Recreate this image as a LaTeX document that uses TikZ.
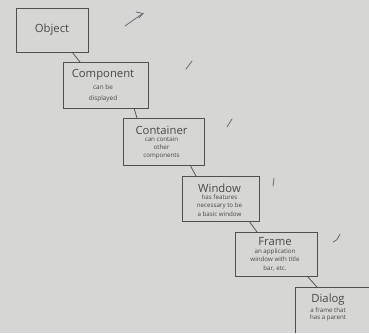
\documentclass[tikz,border=0pt]{standalone}
\usepackage{fontspec}
\setmainfont{Open Sans}
\definecolor{paper}{RGB}{214,214,212}
\definecolor{ink}{RGB}{80,80,80}
\definecolor{txt}{RGB}{72,72,72}
\definecolor{pen}{RGB}{105,105,112}
\begin{document}
\begin{tikzpicture}[x=1pt,y=-1pt,
  frame/.style={draw=ink,line width=0.75pt},
  title/.style={text=txt,align=center,anchor=center,inner sep=0pt,font=\fontsize{11.3}{12}\selectfont},
  note/.style={text=txt,align=center,anchor=center,inner sep=0pt,font=\fontsize{6.2}{8.4}\selectfont},
  link/.style={draw=ink,line width=0.75pt},
  pencil/.style={draw=pen,line width=0.8pt,line cap=round}]
\fill[paper] (0,0) rectangle (369,333);
\useasboundingbox (0,0) rectangle (369,333);
% class hierarchy boxes
\draw[frame] (16,8) rectangle (88,52);
\node[title] (object) at (52,30) {Object};
\coordinate (objB) at (72,52);
\draw[frame] (63,62) rectangle (148,108);
\node[title] (component) at (103,75) {Component};
\node[note,font=\fontsize{6.4}{11}\selectfont] (componentN) at (103,93) {can be\\displayed};
\coordinate (compT) at (80,62);
\coordinate (compB) at (134,108);
\draw[frame] (123,118) rectangle (204,165);
\node[title] (container) at (161.5,130) {Container};
\node[note] (containerN) at (161.5,148) {can contain\\other\\components};
\coordinate (contT) at (137,118);
\coordinate (contB) at (190,165);
\draw[frame] (182,176) rectangle (259,221);
\node[title] (window) at (219.5,188) {Window};
\node[note] (windowN) at (219.5,205.5) {has features\\necessary to be\\a basic window};
\coordinate (winT) at (196,176);
\coordinate (winB) at (249,221);
\draw[frame] (235,232) rectangle (317,276);
\node[title] (frameT) at (275,242) {Frame};
\node[note] (frameN) at (275,260) {an application\\window with title\\bar, etc.};
\coordinate (frT) at (257,232);
\coordinate (frB) at (307,276);
\draw[frame] (295,287) -- (369,287) (295,287) -- (295,333);
\node[title] (dialog) at (328,300) {Dialog};
\node[note,font=\fontsize{6.2}{7.5}\selectfont] (dialogN) at (328,314.5) {a frame that\\has a parent};
\coordinate (dlgT) at (317,287);
% inheritance links
\draw[link] (objB) -- (compT);
\draw[link] (compB) -- (contT);
\draw[link] (contB) -- (winT);
\draw[link] (winB) -- (frT);
\draw[link] (frB) -- (dlgT);
% pencil ticks in the margin
\draw[pencil] (125,26) -- (142,14);
\draw[pencil] (136,12) -- (143,13.5) -- (139,18);
\draw[pencil] (186,69) -- (192,61);
\draw[pencil] (227,127) -- (232,119);
\draw[pencil] (273,186) -- (274,178);
\draw[pencil] (333,242) .. controls (337,240) .. (340,234);
\end{tikzpicture}
\end{document}
